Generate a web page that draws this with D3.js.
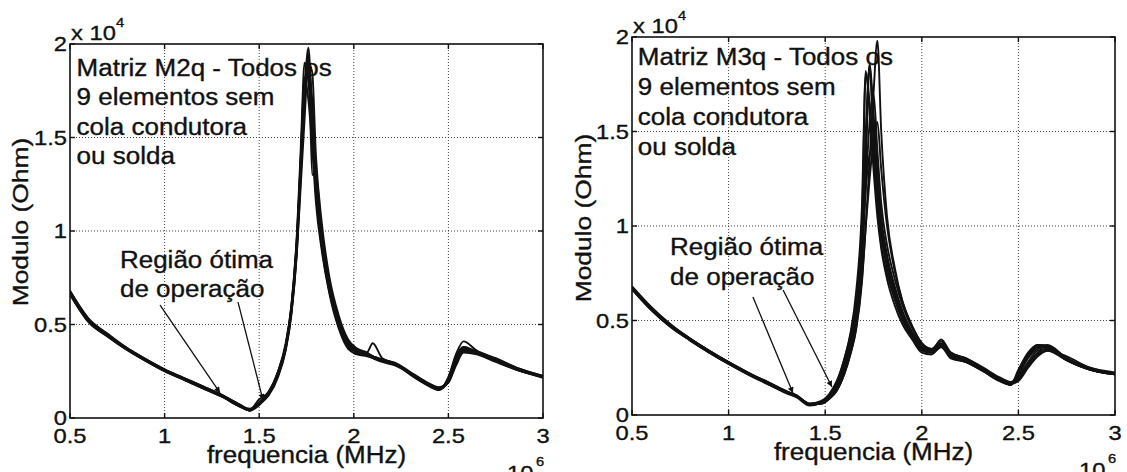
<!DOCTYPE html>
<html><head><meta charset="utf-8">
<script src="https://cdn.jsdelivr.net/npm/d3@7"></script>
<style>body{margin:0;background:#fff}svg{display:block}text{font-family:"Liberation Sans",Arial,sans-serif;fill:#111;stroke:#111;stroke-width:0.35px}</style>
</head><body><svg id="c" width="1127" height="472"></svg>
<script>
// ---------------- DATA ----------------
const xTicks = [0.5, 1, 1.5, 2, 2.5, 3];
const xTickLabels = ["0.5", "1", "1.5", "2", "2.5", "3"];
const yTicks = [0, 0.5, 1, 1.5, 2];
const yTickLabels = ["0", "0.5", "1", "1.5", "2"];
const xLabel = "frequencia (MHz)";
const yLabel = "Modulo (Ohm)";
const yExponent = "4";
const xExponent = "6";

// Panel 1 : Matriz M2q (frequency in MHz, |Z| in 1e4 Ohm)
const freqM2q = [0.5,0.6,0.7,0.8,0.9,1.0,1.1,1.2,1.3,1.4,1.45,1.5,1.55,1.6,1.64,1.67,1.70,1.72,1.74,1.76,1.78,1.80,1.83,1.87,1.92,1.97,2.02,2.07,2.1,2.15,2.22,2.3,2.38,2.45,2.5,2.54,2.58,2.65,2.75,2.87,3.0];
const m2q_1 = [0.67,0.52,0.44,0.37,0.31,0.255,0.21,0.165,0.12,0.065,0.04,0.07,0.13,0.24,0.38,0.58,0.95,1.35,1.75,1.98,1.6,1.25,0.95,0.7,0.5,0.39,0.35,0.34,0.33,0.31,0.29,0.24,0.19,0.155,0.2,0.31,0.38,0.35,0.31,0.26,0.22];
const m2q_2 = [0.68,0.53,0.45,0.375,0.315,0.26,0.215,0.17,0.125,0.07,0.045,0.1,0.14,0.25,0.4,0.6,1.0,1.45,1.9,1.8,1.5,1.2,0.92,0.68,0.49,0.38,0.34,0.35,0.40,0.32,0.29,0.23,0.18,0.15,0.22,0.34,0.41,0.36,0.32,0.265,0.225];
const m2q_3 = [0.66,0.51,0.435,0.365,0.305,0.25,0.205,0.16,0.115,0.06,0.04,0.075,0.12,0.22,0.36,0.55,0.9,1.3,1.7,1.88,1.7,1.3,1.0,0.74,0.53,0.41,0.36,0.34,0.32,0.30,0.28,0.235,0.185,0.16,0.19,0.29,0.36,0.35,0.305,0.255,0.215];
const m2q_4 = [0.675,0.525,0.445,0.37,0.31,0.255,0.21,0.165,0.12,0.065,0.05,0.08,0.13,0.23,0.37,0.57,0.93,1.4,1.82,1.7,1.45,1.15,0.9,0.67,0.48,0.37,0.34,0.33,0.32,0.31,0.29,0.24,0.19,0.16,0.21,0.32,0.37,0.355,0.31,0.26,0.22];
const m2q_5 = [0.665,0.515,0.44,0.37,0.31,0.255,0.21,0.165,0.12,0.065,0.045,0.075,0.13,0.23,0.37,0.56,0.9,1.25,1.6,1.9,1.85,1.4,1.05,0.76,0.55,0.42,0.37,0.35,0.33,0.31,0.295,0.245,0.195,0.165,0.19,0.28,0.35,0.34,0.30,0.255,0.22];
const m2q_6 = [0.67,0.52,0.44,0.37,0.31,0.255,0.21,0.165,0.12,0.065,0.04,0.085,0.14,0.25,0.39,0.6,0.98,1.4,1.8,1.85,1.55,1.2,0.93,0.69,0.5,0.39,0.35,0.34,0.33,0.31,0.29,0.24,0.19,0.15,0.2,0.32,0.375,0.35,0.31,0.26,0.22];
const m2q_7 = [0.68,0.525,0.445,0.375,0.315,0.26,0.215,0.17,0.125,0.07,0.045,0.075,0.13,0.24,0.38,0.58,0.95,1.35,1.75,1.95,1.3,1.3,0.97,0.72,0.51,0.4,0.36,0.345,0.33,0.315,0.29,0.24,0.19,0.155,0.2,0.3,0.37,0.35,0.31,0.26,0.225];
const m2q_8 = [0.665,0.515,0.435,0.365,0.305,0.25,0.205,0.16,0.115,0.06,0.04,0.07,0.125,0.235,0.375,0.57,0.94,1.33,1.72,1.93,1.62,1.27,0.96,0.71,0.5,0.395,0.355,0.34,0.33,0.31,0.29,0.24,0.19,0.16,0.2,0.3,0.36,0.345,0.305,0.255,0.22];
const m2q_9 = [0.67,0.52,0.44,0.37,0.31,0.255,0.21,0.165,0.12,0.065,0.045,0.08,0.135,0.245,0.39,0.59,0.97,1.38,1.78,1.88,1.58,1.22,0.94,0.7,0.5,0.39,0.35,0.335,0.325,0.31,0.29,0.24,0.19,0.155,0.21,0.33,0.38,0.355,0.315,0.265,0.225];

// Panel 2 : Matriz M3q
const freqM3q = [0.5,0.6,0.7,0.8,0.9,1.0,1.1,1.2,1.3,1.35,1.42,1.48,1.52,1.56,1.6,1.63,1.66,1.69,1.71,1.73,1.75,1.77,1.79,1.82,1.86,1.9,1.95,2.0,2.05,2.1,2.15,2.23,2.32,2.4,2.46,2.5,2.55,2.6,2.65,2.75,2.87,3.0];
const m3q_1 = [0.67,0.56,0.47,0.40,0.335,0.275,0.22,0.17,0.12,0.10,0.055,0.06,0.085,0.13,0.22,0.32,0.45,0.7,1.0,1.35,1.7,1.98,1.5,1.05,0.78,0.6,0.47,0.38,0.35,0.36,0.32,0.29,0.24,0.19,0.17,0.19,0.27,0.33,0.35,0.3,0.245,0.22];
const m3q_2 = [0.68,0.57,0.48,0.405,0.34,0.28,0.225,0.175,0.125,0.10,0.06,0.07,0.1,0.16,0.28,0.4,0.58,0.95,1.45,1.85,1.45,1.15,0.95,0.78,0.63,0.52,0.42,0.34,0.33,0.38,0.31,0.28,0.23,0.18,0.16,0.22,0.31,0.36,0.37,0.3,0.24,0.215];
const m3q_3 = [0.665,0.555,0.465,0.395,0.33,0.27,0.215,0.165,0.115,0.095,0.05,0.065,0.1,0.17,0.3,0.43,0.65,1.1,1.82,1.6,1.3,1.05,0.88,0.72,0.58,0.48,0.4,0.33,0.32,0.36,0.3,0.28,0.23,0.185,0.16,0.24,0.33,0.37,0.36,0.29,0.24,0.215];
const m3q_4 = [0.675,0.565,0.475,0.405,0.34,0.28,0.225,0.175,0.125,0.105,0.06,0.065,0.09,0.13,0.22,0.32,0.46,0.72,1.0,1.25,1.45,1.55,1.3,1.0,0.76,0.6,0.47,0.38,0.35,0.39,0.33,0.3,0.25,0.2,0.175,0.19,0.26,0.32,0.34,0.31,0.25,0.22];
const m3q_5 = [0.67,0.56,0.47,0.40,0.335,0.275,0.22,0.17,0.12,0.10,0.055,0.06,0.09,0.14,0.25,0.36,0.52,0.85,1.3,1.86,1.6,1.3,1.05,0.85,0.68,0.55,0.44,0.36,0.34,0.37,0.32,0.29,0.24,0.19,0.165,0.2,0.28,0.34,0.35,0.29,0.24,0.22];
const m3q_6 = [0.665,0.555,0.465,0.395,0.33,0.27,0.215,0.165,0.12,0.10,0.055,0.065,0.095,0.15,0.27,0.38,0.55,0.88,1.2,1.38,1.42,1.2,1.0,0.82,0.66,0.53,0.43,0.35,0.33,0.36,0.31,0.285,0.235,0.185,0.16,0.21,0.3,0.35,0.36,0.3,0.245,0.22];
const m3q_7 = [0.68,0.57,0.475,0.405,0.34,0.28,0.225,0.175,0.125,0.105,0.06,0.075,0.11,0.18,0.3,0.42,0.6,1.0,1.5,1.84,1.5,1.2,1.0,0.8,0.64,0.52,0.42,0.35,0.34,0.4,0.33,0.3,0.245,0.195,0.17,0.22,0.32,0.37,0.365,0.3,0.25,0.225];
const m3q_8 = [0.67,0.56,0.47,0.40,0.335,0.275,0.22,0.17,0.12,0.10,0.055,0.06,0.085,0.13,0.23,0.34,0.49,0.8,1.2,1.55,1.7,1.4,1.12,0.9,0.72,0.58,0.46,0.37,0.345,0.37,0.32,0.29,0.24,0.19,0.165,0.18,0.25,0.31,0.34,0.29,0.24,0.215];
const m3q_9 = [0.67,0.56,0.47,0.40,0.335,0.275,0.22,0.17,0.12,0.10,0.055,0.07,0.1,0.16,0.28,0.41,0.6,1.0,1.8,1.65,1.35,1.1,0.9,0.75,0.61,0.5,0.41,0.34,0.33,0.37,0.31,0.28,0.235,0.185,0.16,0.23,0.32,0.36,0.355,0.29,0.24,0.215];

const titleM2q = ["Matriz M2q - Todos os", "9 elementos sem", "cola condutora", "ou solda"];
const titleM3q = ["Matriz M3q - Todos os", "9 elementos sem", "cola condutora", "ou solda"];
const regionText = ["Região ótima", "de operação"];

// ---------------- LAYOUT ----------------
const SX = 1.13; // horizontal text stretch of the reference
const panels = [
  { left: 70, right: 543, top: 44, bottom: 418, freq: freqM2q,
    series: [m2q_1,m2q_2,m2q_3,m2q_4,m2q_5,m2q_6,m2q_7,m2q_8,m2q_9], title: titleM2q,
    titleAt: [0.535, 1.83], titleStep: 29.5,
    regionAt: [0.764, 0.80], regionStep: 29,
    arrows: [[[0.976,0.604],[1.293,0.134]], [[1.388,0.62],[1.52,0.096]]],
    ylabX: 28, ylabY: 222 },
  { left: 632, right: 1115, top: 37, bottom: 415, freq: freqM3q,
    series: [m3q_1,m3q_2,m3q_3,m3q_4,m3q_5,m3q_6,m3q_7,m3q_8,m3q_9], title: titleM3q,
    titleAt: [0.53, 1.85], titleStep: 30,
    regionAt: [0.697, 0.847], regionStep: 30,
    arrows: [[[1.126,0.624],[1.333,0.116]], [[1.282,0.661],[1.535,0.148]]],
    ylabX: 591, ylabY: 218 }
];

const svg = d3.select("#c");
const defs = svg.append("defs");
defs.append("marker").attr("id","ah").attr("viewBox","0 0 10 10")
  .attr("refX",10).attr("refY",5).attr("markerWidth",9).attr("markerHeight",6)
  .attr("markerUnits","userSpaceOnUse").attr("orient","auto")
  .append("path").attr("d","M0,0 L10,5 L0,10 z").attr("fill","#111");

function txt(g, s, x, y, size, anchor, sx) {
  return g.append("text")
    .attr("transform", `translate(${x},${y}) scale(${sx||SX},1)`)
    .attr("font-size", size).attr("text-anchor", anchor || "start").text(s);
}

panels.forEach((p, pi) => {
  const x = d3.scaleLinear().domain([0.5, 3]).range([p.left, p.right]);
  const y = d3.scaleLinear().domain([0, 2]).range([p.bottom, p.top]);
  const g = svg.append("g");

  // grid
  g.append("g").selectAll("line").data(xTicks.slice(1, -1)).join("line")
    .attr("x1", d => x(d)).attr("x2", d => x(d)).attr("y1", p.top).attr("y2", p.bottom)
    .attr("stroke", "#444").attr("stroke-width", 1).attr("stroke-dasharray", "1,2");
  g.append("g").selectAll("line").data(yTicks.slice(1, -1)).join("line")
    .attr("y1", d => y(d)).attr("y2", d => y(d)).attr("x1", p.left).attr("x2", p.right)
    .attr("stroke", "#444").attr("stroke-width", 1).attr("stroke-dasharray", "1,2");

  // curves
  const cid = "clip" + pi;
  defs.append("clipPath").attr("id", cid).append("rect")
    .attr("x", p.left).attr("y", p.top).attr("width", p.right - p.left).attr("height", p.bottom - p.top);
  const line = d3.line().x((d, i) => x(p.freq[i])).y(d => y(d)).curve(d3.curveMonotoneX);
  g.append("g").attr("clip-path", `url(#${cid})`).selectAll("path").data(p.series).join("path")
    .attr("d", line).attr("fill", "none").attr("stroke", "#111").attr("stroke-width", 1.9)
    .attr("stroke-linejoin", "round");

  // frame and ticks (MATLAB box on, ticks inward)
  g.append("rect").attr("x", p.left).attr("y", p.top).attr("width", p.right - p.left)
    .attr("height", p.bottom - p.top).attr("fill", "none").attr("stroke", "#111").attr("stroke-width", 1.6);
  const tl = 5;
  const tg = g.append("g").attr("stroke", "#111").attr("stroke-width", 1.4);
  xTicks.forEach(t => {
    tg.append("line").attr("x1", x(t)).attr("x2", x(t)).attr("y1", p.bottom).attr("y2", p.bottom - tl);
    tg.append("line").attr("x1", x(t)).attr("x2", x(t)).attr("y1", p.top).attr("y2", p.top + tl);
  });
  yTicks.forEach(t => {
    tg.append("line").attr("y1", y(t)).attr("y2", y(t)).attr("x1", p.left).attr("x2", p.left + tl);
    tg.append("line").attr("y1", y(t)).attr("y2", y(t)).attr("x1", p.right).attr("x2", p.right - tl);
  });

  // tick labels
  xTicks.forEach((t, i) => txt(g, xTickLabels[i], x(t), p.bottom + 25, 21, "middle"));
  yTicks.forEach((t, i) => txt(g, yTickLabels[i], p.left - 3, y(t) + 7, 21, "end"));

  // exponents
  txt(g, "x 10", p.left + 1, p.top - 4, 21, "start");
  txt(g, yExponent, p.left + 46, p.top - 17, 13, "start");
  txt(g, "10", p.right - 36, p.bottom + 62, 21, "start");
  txt(g, xExponent, p.right - 7, p.bottom + 48, 13, "start");

  // axis labels
  txt(g, xLabel, (p.left + p.right) / 2, p.bottom + 45, 23, "middle");
  g.append("text").attr("transform", `translate(${p.ylabX},${p.ylabY}) rotate(-90) scale(1.2,1)`)
    .attr("font-size", 22).attr("text-anchor", "middle").text(yLabel);

  // annotation text
  p.title.forEach((s, i) => txt(g, s, x(p.titleAt[0]), y(p.titleAt[1]) + i * p.titleStep, 23, "start"));
  regionText.forEach((s, i) => txt(g, s, x(p.regionAt[0]), y(p.regionAt[1]) + i * p.regionStep, 23, "start"));

  // arrows
  p.arrows.forEach(a => {
    g.append("line").attr("x1", x(a[0][0])).attr("y1", y(a[0][1]))
      .attr("x2", x(a[1][0])).attr("y2", y(a[1][1]))
      .attr("stroke", "#111").attr("stroke-width", 1.3).attr("marker-end", "url(#ah)");
  });
});
</script>
</body></html>
